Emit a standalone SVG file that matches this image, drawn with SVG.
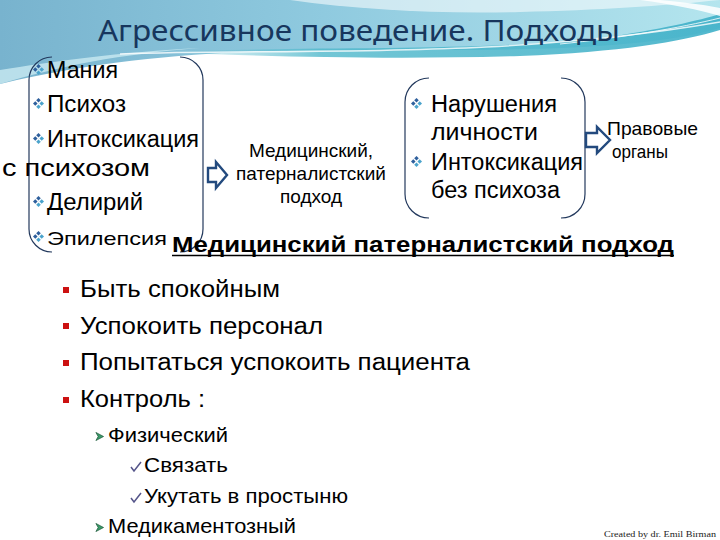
<svg xmlns="http://www.w3.org/2000/svg" width="720" height="540" viewBox="0 0 720 540">
<defs>
  <linearGradient id="sky" x1="0" y1="0" x2="1" y2="0">
    <stop offset="0" stop-color="#78b3ce"/>
    <stop offset="0.45" stop-color="#8fcadf"/>
    <stop offset="1" stop-color="#b4e5ee"/>
  </linearGradient>
  <linearGradient id="teal" x1="0" y1="0" x2="1" y2="0">
    <stop offset="0" stop-color="#6cc3d3" stop-opacity="0"/>
    <stop offset="0.3" stop-color="#4fb8cb" stop-opacity="0.8"/>
    <stop offset="1" stop-color="#3fb0c8" stop-opacity="0.9"/>
  </linearGradient>
  <symbol id="dia" viewBox="0 0 12 12">
    <polygon points="6,0 8.5,2.5 6,5 3.5,2.5" fill="#2e5f9c"/>
    <polygon points="2.5,3.5 5,6 2.5,8.5 0,6" fill="#2e5f9c"/>
    <polygon points="9.5,3.5 12,6 9.5,8.5 7,6" fill="#4aa3cc"/>
    <polygon points="6,7 8.5,9.5 6,12 3.5,9.5" fill="#4aa3cc"/>
  </symbol>
  <symbol id="arr" viewBox="0 0 10 10">
    <polygon points="1,0.5 9.5,5 1,9.5 3.5,5" fill="#3a9a6a" stroke="#1f5a3a" stroke-width="0.8"/>
  </symbol>
</defs>
<style>
  .t { font-family: "Liberation Sans", Arial, sans-serif; fill: #000; }
  .big { font-size: 23px; }
  .mid { font-size: 19px; }
  .l1 { font-size: 23px; }
  .l2 { font-size: 21px; }
  .br { fill: none; stroke: #23395d; stroke-width: 1.2; }
  .ba { fill: #ffffff; stroke: #234a7e; stroke-width: 2.4; stroke-linejoin: miter; }
  .sq { fill: #cc1111; }
  .ck { fill: none; stroke: #55558a; stroke-width: 1.5; }
</style>

<!-- background -->
<rect width="720" height="540" fill="#ffffff"/>
<path d="M0,0 H720 V28 C660,46 560,50 440,50 C300,50 160,46 0,84 Z" fill="url(#sky)"/>
<path d="M0,84 C60,66 120,54 200,48 C120,52 50,62 0,70 Z" fill="#c9eaf1" opacity="0.8"/>
<path d="M150,52 C300,46 480,52 600,38 C660,30 700,20 720,14 L720,30 C680,42 620,52 520,56 C380,60 260,56 150,52 Z" fill="url(#teal)"/>
<path d="M120,54 C300,48 500,60 720,22" fill="none" stroke="#ffffff" stroke-width="1.5" opacity="0.8"/>
<path d="M290,0 C360,10 440,14 520,12 C600,10 660,6 720,0 Z" fill="#ffffff" opacity="0.55"/>
<path d="M640,0 C670,4 700,10 720,16 L720,8 C700,4 680,2 660,0 Z" fill="#ffffff" opacity="0.85"/>
<path d="M560,44 C620,38 680,28 720,18" fill="none" stroke="#ffffff" stroke-width="1" opacity="0.8"/>

<!-- title -->
<text x="98" y="41" font-family="'Noto Sans', 'Liberation Sans', sans-serif" font-size="29" fill="#17365d" textLength="522" lengthAdjust="spacingAndGlyphs">Агрессивное поведение. Подходы</text>

<!-- left group -->
<g id="left-box">
  <path class="br" d="M52,57 A23,23 0 0 0 29,80 L29,229 A23,23 0 0 0 52,252"/>
  <path class="br" d="M180,57 A23,23 0 0 1 203,80 L203,229 A23,23 0 0 1 180,252"/>
  <use href="#dia" x="33" y="64" width="11" height="11"/>
  <use href="#dia" x="33" y="98" width="11" height="11"/>
  <use href="#dia" x="33" y="133" width="11" height="11"/>
  <use href="#dia" x="33" y="196" width="11" height="11"/>
  <use href="#dia" x="33" y="231" width="11" height="11"/>
  <text class="t big" x="47" y="78" textLength="71" lengthAdjust="spacingAndGlyphs">Мания</text>
  <text class="t big" x="47" y="112" textLength="79" lengthAdjust="spacingAndGlyphs">Психоз</text>
  <text class="t big" x="47" y="147" textLength="152" lengthAdjust="spacingAndGlyphs">Интоксикация</text>
  <text class="t big" x="2" y="176" textLength="148" lengthAdjust="spacingAndGlyphs">с психозом</text>
  <text class="t big" x="47" y="210" textLength="96" lengthAdjust="spacingAndGlyphs">Делирий</text>
  <text class="t" x="47" y="245" font-size="19" textLength="120" lengthAdjust="spacingAndGlyphs">Эпилепсия</text>
</g>

<g id="middle">
  <text class="t mid" x="311" y="157" text-anchor="middle">Медицинский,</text>
  <text class="t mid" x="311" y="180" text-anchor="middle">патерналистский</text>
  <text class="t mid" x="311" y="203" text-anchor="middle">подход</text>
</g>

<g id="right-box">
  <path class="br" d="M429,78 A24,24 0 0 0 405,102 L405,194 A24,24 0 0 0 429,218"/>
  <path class="br" d="M561,78 A24,24 0 0 1 585,102 L585,194 A24,24 0 0 1 561,218"/>
  <use href="#dia" x="411" y="98" width="11" height="11"/>
  <use href="#dia" x="411" y="156" width="11" height="11"/>
  <text class="t big" x="431" y="112" textLength="126" lengthAdjust="spacingAndGlyphs">Нарушения</text>
  <text class="t big" x="431" y="140" textLength="107" lengthAdjust="spacingAndGlyphs">личности</text>
  <text class="t big" x="431" y="170" textLength="152" lengthAdjust="spacingAndGlyphs">Интоксикация</text>
  <text class="t big" x="431" y="198" textLength="129" lengthAdjust="spacingAndGlyphs">без психоза</text>
</g>

<g id="legal">
  <text class="t mid" x="607" y="135" textLength="91" lengthAdjust="spacingAndGlyphs">Правовые</text>
  <text class="t mid" x="612" y="158" textLength="56" lengthAdjust="spacingAndGlyphs">органы</text>
</g>

<g id="connectors">
  <polygon class="ba" points="208,168 216,168 216,162 227,175 216,188 216,182 208,182"/>
  <polygon class="ba" points="586,133 597,133 597,127 610,140 597,153 597,147 586,147"/>
</g>

<g id="approach">
  <text class="t" x="172" y="252" font-size="22" font-weight="bold" textLength="502" lengthAdjust="spacingAndGlyphs">Медицинский патерналистский подход</text>
  <line x1="172" y1="255.5" x2="674" y2="255.5" stroke="#000" stroke-width="1.6"/>
  <rect class="sq" x="63" y="287" width="6" height="6"/>
  <rect class="sq" x="63" y="323" width="6" height="6"/>
  <rect class="sq" x="63" y="360" width="6" height="6"/>
  <rect class="sq" x="63" y="397" width="6" height="6"/>
  <text class="t l1" x="80" y="297" textLength="200" lengthAdjust="spacingAndGlyphs">Быть спокойным</text>
  <text class="t l1" x="80" y="334" textLength="243" lengthAdjust="spacingAndGlyphs">Успокоить персонал</text>
  <text class="t l1" x="80" y="370" textLength="390" lengthAdjust="spacingAndGlyphs">Попытаться успокоить пациента</text>
  <text class="t l1" x="80" y="407" textLength="125" lengthAdjust="spacingAndGlyphs">Контроль :</text>
  <use href="#arr" x="95" y="432" width="9" height="9"/>
  <text class="t l2" x="108" y="442" textLength="120" lengthAdjust="spacingAndGlyphs">Физический</text>
  <polyline class="ck" points="131,467 134,471 141,462"/>
  <text class="t l2" x="144" y="472" textLength="84" lengthAdjust="spacingAndGlyphs">Связать</text>
  <polyline class="ck" points="131,498 134,502 141,493"/>
  <text class="t l2" x="144" y="503" textLength="204" lengthAdjust="spacingAndGlyphs">Укутать в простыню</text>
  <use href="#arr" x="95" y="523" width="9" height="9"/>
  <text class="t l2" x="108" y="533" textLength="188" lengthAdjust="spacingAndGlyphs">Медикаментозный</text>
</g>

<text x="604" y="537" font-family="'Liberation Serif', serif" font-size="8" fill="#222" textLength="112" lengthAdjust="spacingAndGlyphs">Created by dr. Emil Birman</text>
</svg>
